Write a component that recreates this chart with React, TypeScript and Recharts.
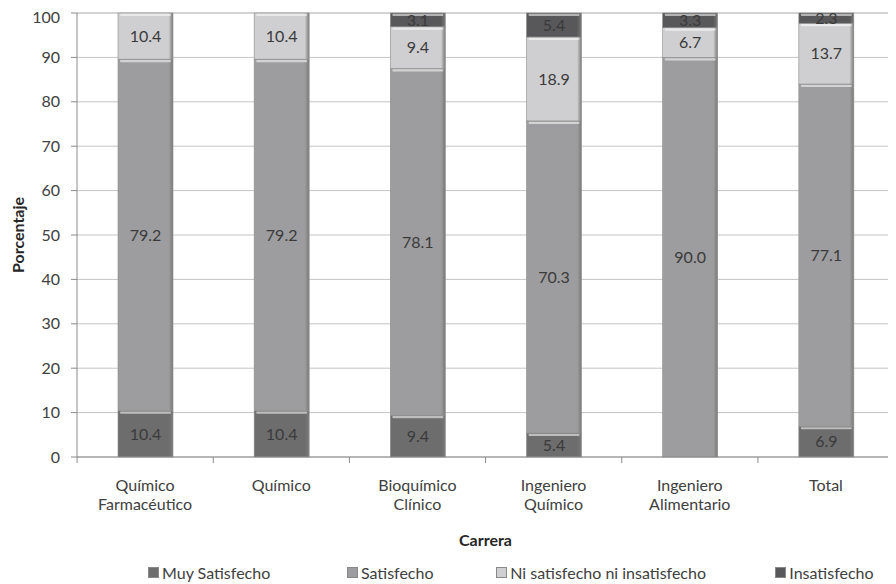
import React from 'react';
import {
  BarChart,
  Bar,
  XAxis,
  YAxis,
  CartesianGrid,
  Legend,
  LabelList,
  Label
} from 'recharts';

const categories = [
  'Químico Farmacéutico',
  'Químico',
  'Bioquímico Clínico',
  'Ingeniero Químico',
  'Ingeniero Alimentario',
  'Total'
];
const muySatisfecho = [10.4, 10.4, 9.4, 5.4, 0, 6.9];
const satisfecho = [79.2, 79.2, 78.1, 70.3, 90.0, 77.1];
const niSatisfecho = [10.4, 10.4, 9.4, 18.9, 6.7, 13.7];
const insatisfecho = [0, 0, 3.1, 5.4, 3.3, 2.3];
const yTicks = [0, 10, 20, 30, 40, 50, 60, 70, 80, 90, 100];

const data = categories.map((c, i) => ({
  carrera: c,
  muy: muySatisfecho[i],
  sat: satisfecho[i],
  ni: niSatisfecho[i],
  ins: insatisfecho[i]
}));

// legend item widths follow the original's uneven spacing
const series = [
  { key: 'muy', name: 'Muy Satisfecho', color: '#6d6d6e', w: 201 },
  { key: 'sat', name: 'Satisfecho', color: '#9d9d9f', w: 151 },
  { key: 'ni', name: 'Ni satisfecho ni insatisfecho', color: '#cfcfd1', w: 282 },
  { key: 'ins', name: 'Insatisfecho', color: '#58585a', w: 120 }
];

const FONT = 'Lato, sans-serif';
const FS = 16;
const HALF_BAND = 68;

const Segment = (props: any) => {
  const { x, y, width, height, gradId } = props;
  if (!height || height <= 0) return null;
  return (
    <g>
      <rect x={x} y={y} width={width} height={height} fill={`url(#${gradId})`} stroke="#8c8c8c" strokeWidth={0.6} />
      <rect x={x + 2} y={y + 0.8} width={width - 4} height={2.2} fill="#ffffff" opacity={0.55} rx={1} />
    </g>
  );
};

const CategoryTick = (props: any) => {
  const { x, y, payload, index } = props;
  const words = String(payload.value).split(' ');
  return (
    <g>
      <line x1={x - HALF_BAND} y1={y} x2={x - HALF_BAND} y2={y + 6} stroke="#8a8a8a" />
      {index === categories.length - 1 && (
        <line x1={x + HALF_BAND} y1={y} x2={x + HALF_BAND} y2={y + 6} stroke="#8a8a8a" />
      )}
      <text x={x} y={y + 34} textAnchor="middle" fill="#404040" fontSize={FS} fontFamily={FONT}>
        {words.map((w, i) => (
          <tspan key={i} x={x} dy={i === 0 ? 0 : 19}>{w}</tspan>
        ))}
      </text>
    </g>
  );
};

const YTitle = (props: any) => {
  const { viewBox } = props;
  const cy = viewBox.y + viewBox.height / 2;
  return (
    <text
      x={16}
      y={cy}
      transform={`rotate(-90, 16, ${cy})`}
      textAnchor="middle"
      fill="#262626"
      fontSize={FS}
      fontWeight="bold"
      fontFamily={FONT}
    >
      Porcentaje
    </text>
  );
};

const LegendContent = () => (
  <div style={{ display: 'flex', paddingLeft: 140, fontFamily: FONT, fontSize: FS, color: '#404040' }}>
    {series.map(s => (
      <span key={s.key} style={{ display: 'flex', alignItems: 'center', gap: 3, width: s.w, whiteSpace: 'nowrap' }}>
        <span style={{ width: 9, height: 9, background: s.color, border: '1px solid #888', display: 'inline-block' }} />
        {s.name}
      </span>
    ))}
  </div>
);

export default function App() {
  return (
    <BarChart
      width={888}
      height={576}
      data={data}
      margin={{ top: 5, right: 2, left: 0, bottom: 2 }}
      barSize={55}
    >
      <defs>
        {series.map(s => (
          <linearGradient key={s.key} id={`g-${s.key}`} x1="0" y1="0" x2="1" y2="0">
            <stop offset="0%" stopColor={s.color} />
            <stop offset="92%" stopColor={s.color} />
            <stop offset="100%" stopColor="#7a7a7a" />
          </linearGradient>
        ))}
      </defs>
      <CartesianGrid vertical={false} stroke="#c4c4c4" />
      <XAxis
        dataKey="carrera"
        height={106}
        interval={0}
        tick={<CategoryTick />}
        tickLine={false}
        tickSize={0}
        tickMargin={0}
        axisLine={{ stroke: '#8a8a8a' }}
      >
        <Label value="Carrera" position="insideBottom" offset={17} fill="#262626" fontSize={FS} fontWeight="bold" fontFamily={FONT} />
      </XAxis>
      <YAxis
        domain={[0, 100]}
        ticks={yTicks}
        width={69}
        axisLine={{ stroke: '#8a8a8a' }}
        tickLine={{ stroke: '#8a8a8a' }}
        tickSize={6}
        tickMargin={11}
        tick={{ fill: '#404040', fontSize: FS, fontFamily: FONT }}
      >
        <Label content={<YTitle />} />
      </YAxis>
      <Legend verticalAlign="bottom" content={<LegendContent />} />
      {series.map(s => (
        <Bar
          key={s.key}
          dataKey={s.key}
          name={s.name}
          stackId="a"
          fill={s.color}
          isAnimationActive={false}
          shape={<Segment gradId={`g-${s.key}`} />}
        >
          <LabelList
            dataKey={s.key}
            position="center"
            formatter={(v: any) => (v > 0 ? Number(v).toFixed(1) : '')}
            fill="#3a3a3a"
            fontSize={FS}
            fontFamily={FONT}
          />
        </Bar>
      ))}
    </BarChart>
  );
}
